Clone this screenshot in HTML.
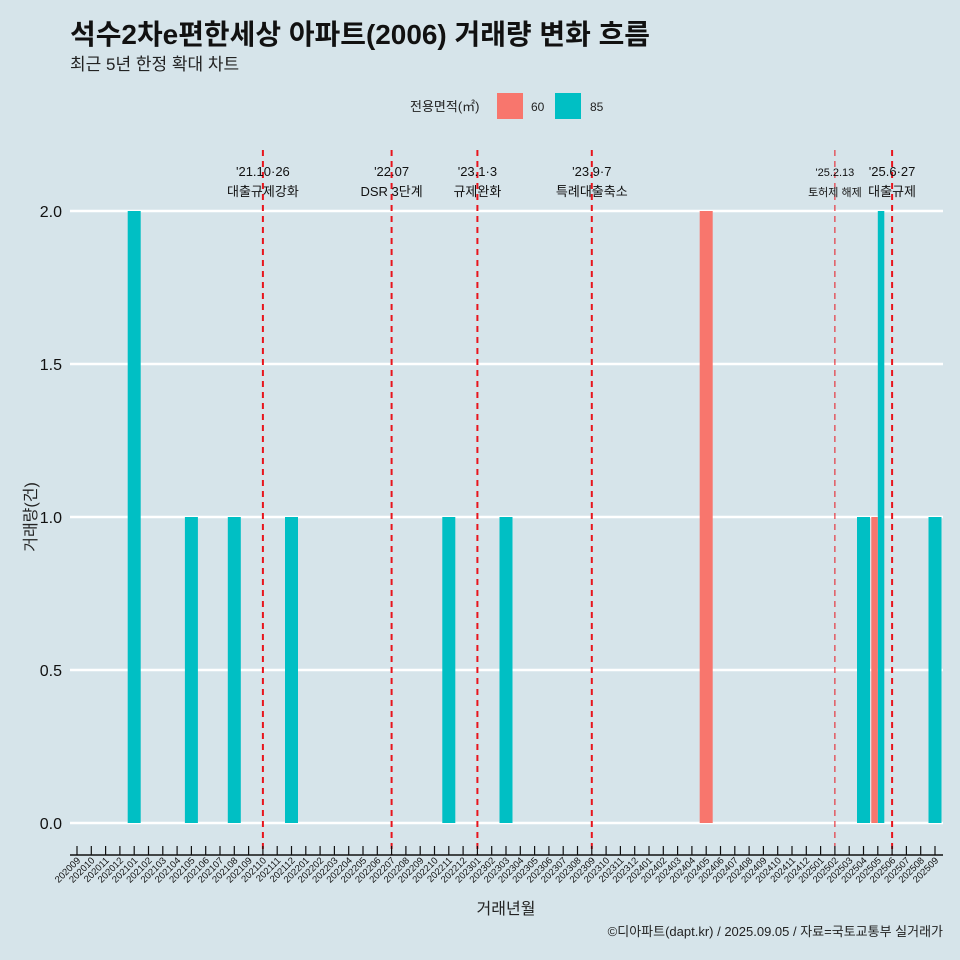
<!DOCTYPE html>
<html><head><meta charset="utf-8"><style>
html,body{margin:0;width:960px;height:960px;overflow:hidden;background:#d6e4ea;font-family:"Liberation Sans","Noto Sans CJK KR",sans-serif}
svg{display:block}
svg text{font-family:"Liberation Sans","Noto Sans CJK KR",sans-serif}
</style></head><body>
<svg id="c" width="960" height="960" xmlns="http://www.w3.org/2000/svg">
<rect width="960" height="960" fill="#d6e4ea"/>
<text x="70" y="44" font-size="28" font-weight="bold" fill="#111" textLength="580" lengthAdjust="spacingAndGlyphs">석수2차e편한세상 아파트(2006) 거래량 변화 흐름</text>
<text x="70" y="70" font-size="17" fill="#222">최근 5년 한정 확대 차트</text>
<g>
<text x="410" y="111" font-size="13" fill="#222">전용면적(㎡)</text>
<rect x="497" y="93" width="26" height="26" fill="#f8766d"/>
<text x="531" y="111" font-size="12" fill="#222">60</text>
<rect x="555" y="93" width="26" height="26" fill="#00bfc4"/>
<text x="590" y="111" font-size="12" fill="#222">85</text>
</g>
<g id="grid"></g><g id="bars"></g><g id="events"></g><g id="xaxis"></g>
<text transform="translate(36,517) rotate(-90)" text-anchor="middle" font-size="16" fill="#222">거래량(건)</text>
<text x="506" y="914" text-anchor="middle" font-size="16" fill="#222">거래년월</text>
<text x="943" y="936" text-anchor="end" font-size="13" fill="#222">©디아파트(dapt.kr) / 2025.09.05 / 자료=국토교통부 실거래가</text>
</svg>
<script>
const yTicks=[0,0.5,1,1.5,2];
const barMonths85=["202101","202105","202108","202112","202211","202303","202504","202505","202509"];
const barValues85=[2,1,1,1,1,1,1,2,1];
const barMonths60=["202405","202505"];
const barValues60=[2,1];
const eventMonths=["202110","202207","202301","202309","202502","202506"];
const eventDates=["'21.10·26","'22.07","'23.1·3","'23.9·7","'25.2.13","'25.6·27"];
const eventLabels=["대출규제강화","DSR 3단계","규제완화","특례대출축소","토허제 해제","대출규제"];
const months=[];
for(let y=2020;y<=2025;y++)for(let m=1;m<=12;m++){const k=y*100+m;if(k>=202009&&k<=202509)months.push(String(k));}
const NS="http://www.w3.org/2000/svg";
const xs=i=>77+i*14.3;
const xm=m=>xs(months.indexOf(m));
const ys=v=>823-v*306;
function el(t,a,p){const e=document.createElementNS(NS,t);for(const k in a)e.setAttribute(k,a[k]);document.getElementById(p).appendChild(e);return e;}
yTicks.forEach(v=>{
 const l=el('line',{x1:70,x2:943,y1:ys(v),y2:ys(v),stroke:'#fff','stroke-width':2.5},'grid');
 
 
 const t=el('text',{x:62,y:ys(v)+6,'text-anchor':'end','font-size':16,fill:'#111'},'grid');
 t.textContent=v.toFixed(1);
 
 
});
const bw=13;
function drawBar(m,v,color,name){
 const both=barMonths60.includes(m)&&barMonths85.includes(m);
 let x=xm(m)-bw/2,w=bw;
 if(both){w=bw/2;if(color==='#00bfc4')x+=w;}
 const r=el('rect',{x:x,y:ys(v),width:w,height:ys(0)-ys(v),fill:color},'bars');
 
 
}
barMonths85.forEach((m,i)=>drawBar(m,barValues85[i],'#00bfc4','bar-85-'+m));
barMonths60.forEach((m,i)=>drawBar(m,barValues60[i],'#f8766d','bar-60-'+m));
eventMonths.forEach((m,i)=>{
 const x=xm(m);const thin=m==='202502';
 const l=el('line',{x1:x,x2:x,y1:150,y2:855,stroke:'#e8141c','stroke-width':thin?1:2,'stroke-dasharray':'6,5'},'events');
 
 
 const fs=thin?11:13;
 const t1=el('text',{x:x,y:176,'text-anchor':'middle','font-size':fs,fill:'#111'},'events');
 t1.textContent=eventDates[i];
 
 
 const t2=el('text',{x:x,y:196,'text-anchor':'middle','font-size':fs,fill:'#111'},'events');
 t2.textContent=eventLabels[i];
 
 
});
const ax=el('line',{x1:70,x2:943,y1:855,y2:855,stroke:'#111','stroke-width':1.5},'xaxis');


months.forEach((m,i)=>{
 const x=xs(i);
 const tk=el('line',{x1:x,x2:x,y1:846,y2:855,stroke:'#111','stroke-width':1.2},'xaxis');
 
 
 const t=el('text',{transform:`translate(${x+4},${861}) rotate(-45)`,'text-anchor':'end','font-size':9.5,fill:'#111'},'xaxis');
 t.textContent=m;
 
 
});
</script>
</body></html>
